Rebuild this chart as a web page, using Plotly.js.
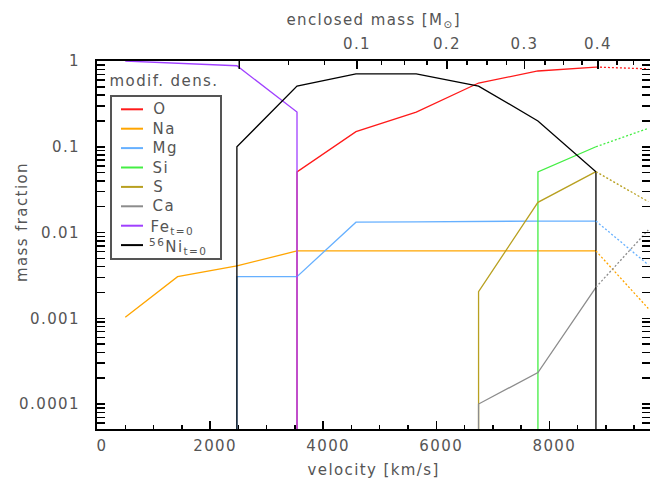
<!DOCTYPE html>
<html><head><meta charset="utf-8">
<script src="https://cdn.plot.ly/plotly-3.0.1.min.js"></script>
<style>
html,body{margin:0;padding:0;background:#fff;}
#chart{width:650px;height:479px;}
#chart text{letter-spacing:1.4px;}
</style></head>
<body><div id="chart"></div>
<script>
// ---- data (velocity in km/s, mass fraction) ----
const FLOOR = 1e-9;            // "zero" abundance (drawn as drop to the axis)
const tailVelocity = 9750;     // end of dotted extrapolation

const velO  = [3537, 3537, 4580, 5646, 6748, 7798, 8824];
const fracO = [FLOOR, 0.051, 0.15, 0.254, 0.554, 0.765, 0.85];
const tailO = 0.81;

const velNa  = [500, 1425, 2474, 3537, 4580, 5646, 6748, 7798, 8824];
const fracNa = [0.00103, 0.00306, 0.00408, 0.0061, 0.0061, 0.0061, 0.0061, 0.0061, 0.0061];
const tailNa = 0.0013;

const velMg  = [2474, 2474, 3537, 4580, 5646, 6748, 7798, 8824];
const fracMg = [FLOOR, 0.00306, 0.00306, 0.0132, 0.0133, 0.0135, 0.0136, 0.0136];
const tailMg = 0.0042;

const velSi  = [7798, 7798, 8824];
const fracSi = [FLOOR, 0.051, 0.1];
const tailSi = 0.164;

const velS  = [6748, 6748, 7798, 8824];
const fracS = [FLOOR, 0.00204, 0.0225, 0.0512];
const tailS = 0.0229;

const velCa  = [6748, 6748, 7798, 8824];
const fracCa = [FLOOR, 0.0001, 0.000233, 0.0023];
const tailCa = 0.0107;

const velFe  = [500, 2474, 3537, 3537];
const fracFe = [1.0, 0.88, 0.254, FLOOR];

const velNi  = [2474, 2474, 3537, 4580, 5646, 6748, 7798, 8824, 8824];
const fracNi = [FLOOR, 0.1, 0.51, 0.706, 0.706, 0.51, 0.2, 0.051, FLOOR];

// axis tick labels
const xTickVals = [0, 2000, 4000, 6000, 8000];
const xTickText = ['0', '2000', '4000', '6000', '8000'];
const yTickVals = [1e-4, 1e-3, 1e-2, 1e-1, 1];
const yTickText = ['0.0001', '0.001', '0.01', '0.1', '1'];
// enclosed-mass axis: velocity positions of mass ticks
const massLabelVel = [4598, 6189, 7561, 8859];
const massLabelText = ['0.1', '0.2', '0.3', '0.4'];
const massZeroVel = 2516;
const massMinorVel = [3388, 4020, 5033, 5439, 5835, 6543, 6897, 7238, 7927, 8251, 8576, 9195, 9489];

// ---- styling ----
const FONT = 'DejaVu Sans, sans-serif';
const TXT = '#555555';
const series = [
  {name: 'O',  x: velO,  y: fracO,  tail: tailO,  color: '#ff1a1a'},
  {name: 'Na', x: velNa, y: fracNa, tail: tailNa, color: '#ffa500'},
  {name: 'Mg', x: velMg, y: fracMg, tail: tailMg, color: '#66b0ff'},
  {name: 'Si', x: velSi, y: fracSi, tail: tailSi, color: '#44ee44'},
  {name: 'S',  x: velS,  y: fracS,  tail: tailS,  color: '#b8a020'},
  {name: 'Ca', x: velCa, y: fracCa, tail: tailCa, color: '#8c8c8c'},
  {name: 'Fe<sub>t=0</sub>', x: velFe, y: fracFe, tail: null, color: '#a040ff', dy: 2},
  {name: '<sup>56</sup>Ni<sub>t=0</sub>', x: velNi, y: fracNi, tail: null, color: '#000000', dy: 1}
];

const traces = [];
series.forEach(s => {
  traces.push({x: s.x, y: s.y, mode: 'lines', name: s.name, type: 'scatter', showlegend: false,
    line: {color: s.color, width: 1.3}, hoverinfo: 'skip'});
});
series.forEach(s => {
  if (s.tail === null) return;
  const n = s.x.length - 1;
  traces.push({x: [s.x[n], tailVelocity], y: [s.y[n], s.tail], mode: 'lines', type: 'scatter',
    showlegend: false, line: {color: s.color, width: 1.3, dash: '2px,2px'}, hoverinfo: 'skip'});
});
// empty trace to carry the top (enclosed mass) axis
traces.push({x: [], y: [], xaxis: 'x2', yaxis: 'y', showlegend: false, type: 'scatter', mode: 'lines'});

const minorY = [];
for (let e = -5; e <= 0; e++) for (let m = 2; m <= 9; m++) minorY.push(m * Math.pow(10, e));

// pixel -> paper helpers (plot area: x 97..650, y 61..429)
const px = x => (x - 97) / 553;
const py = y => (429 - y) / 368;

const shapes = [
  {type: 'line', xref: 'x2', yref: 'paper', x0: massZeroVel, x1: massZeroVel,
   y0: 1, y1: 1 - 8 / 368, line: {color: '#000', width: 1.5}},
  // legend frame
  {type: 'rect', xref: 'paper', yref: 'paper', x0: px(111), x1: px(221), y0: py(96), y1: py(259),
   line: {color: '#555', width: 2}, fillcolor: '#fff', layer: 'above'}
];
const annotations = [
  {text: 'modif. dens.', xref: 'paper', yref: 'paper', x: px(116), y: py(81),
   xanchor: 'left', yanchor: 'middle', showarrow: false, font: {family: FONT, size: 15, color: TXT}},
  {text: 'velocity [km/s]', xref: 'paper', yref: 'paper', x: 0.5, y: py(470),
   xanchor: 'center', yanchor: 'middle', showarrow: false, font: {family: FONT, size: 15, color: TXT}},
  {text: 'enclosed mass [M<sub>⊙</sub>]', xref: 'paper', yref: 'paper', x: 0.5, y: py(21),
   xanchor: 'center', yanchor: 'middle', showarrow: false, font: {family: FONT, size: 15, color: TXT}},
  {text: 'mass fraction', xref: 'paper', yref: 'paper', x: px(22), y: py(222),
   xanchor: 'center', yanchor: 'middle', textangle: -90, showarrow: false, font: {family: FONT, size: 15, color: TXT}}
];
// legend entries (line sample + label)
series.forEach((s, i) => {
  const rowY = 109.3 + i * 19.4;
  shapes.push({type: 'line', xref: 'paper', yref: 'paper', x0: px(121), x1: px(143), y0: py(rowY), y1: py(rowY),
    line: {color: s.color, width: 2}, layer: 'above'});
  annotations.push({text: s.name, xref: 'paper', yref: 'paper', x: px(152), y: py(rowY + (s.dy || 0)),
    xanchor: 'left', yanchor: 'middle', showarrow: false, font: {family: FONT, size: 15, color: TXT}});
});

const tickFont = {family: FONT, size: 15, color: TXT};
const layout = {
  width: 650, height: 479,
  margin: {l: 97, r: 0, t: 61, b: 50, pad: 0},
  paper_bgcolor: '#fff', plot_bgcolor: '#fff',
  showlegend: false,
  xaxis: {
    range: [0, 9780], showgrid: false, zeroline: false,
    showline: true, linecolor: '#000', linewidth: 2,
    tickmode: 'array', tickvals: xTickVals, ticktext: xTickText,
    ticks: 'inside', ticklen: 8, tickwidth: 1.5, tickcolor: '#000',
    minor: {tickmode: 'linear', tick0: 0, dtick: 500, ticks: 'inside', ticklen: 4, tickwidth: 1.5, tickcolor: '#000'},
    tickfont: tickFont, ticklabelstandoff: 2, ticklabelshift: 5
  },
  xaxis2: {
    overlaying: 'x', side: 'top', anchor: 'y',
    range: [0, 9780], showgrid: false, zeroline: false,
    showline: true, linecolor: '#000', linewidth: 2,
    tickmode: 'array', tickvals: massLabelVel, ticktext: massLabelText,
    ticks: 'inside', ticklen: 8, tickwidth: 1.5, tickcolor: '#000',
    minor: {tickmode: 'array', tickvals: massMinorVel, ticks: 'inside', ticklen: 4, tickwidth: 1.5, tickcolor: '#000'},
    tickfont: tickFont, ticklabelstandoff: 4
  },
  yaxis: {
    type: 'log', range: [-4.291, 0], showgrid: false, zeroline: false,
    showline: true, linecolor: '#000', linewidth: 2, mirror: 'allticks',
    tickmode: 'array', tickvals: yTickVals, ticktext: yTickText,
    ticks: 'inside', ticklen: 8, tickwidth: 1.5, tickcolor: '#000',
    minor: {tickmode: 'array', tickvals: minorY, ticks: 'inside', ticklen: 4, tickwidth: 1.5, tickcolor: '#000'},
    tickfont: tickFont, ticklabelstandoff: 12
  },
  shapes: shapes,
  annotations: annotations
};

Plotly.newPlot('chart', traces, layout, {displayModeBar: false, staticPlot: true});
</script></body></html>
